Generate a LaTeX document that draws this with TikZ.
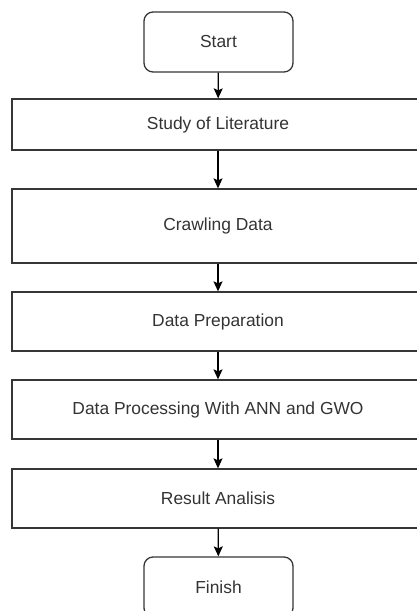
\documentclass[tikz,border=0pt]{standalone}
\usepackage{fontspec}
\setmainfont{Liberation Sans}
\usetikzlibrary{arrows.meta}
\definecolor{bordc}{HTML}{363636}
\definecolor{txtc}{HTML}{333333}
\tikzset{
  flowbox/.style={draw=bordc, line width=1.3pt, inner sep=0pt, text=txtc,
    font=\fontsize{17.4}{20}\selectfont, minimum width=412pt},
  termbox/.style={flowbox, rounded corners=9pt, minimum width=149pt, minimum height=60pt},
  flowarrow/.style={draw=black, line width=1.3pt, -{Stealth[length=10pt,width=9pt,inset=2pt]}}
}
\begin{document}
\begin{tikzpicture}[x=1pt,y=-1pt]
\useasboundingbox (0,0) rectangle (417,611);
\clip (0,0) rectangle (417,611);
\node[termbox] (start) at (218.5,42) {Start};
\node[flowbox, minimum height=51pt] (study) at (218,124.5) {Study of Literature};
\node[flowbox, minimum height=74pt] (crawl) at (218,226) {Crawling Data};
\node[flowbox, minimum height=59pt] (prep) at (218,321.5) {Data Preparation};
\node[flowbox, minimum height=59pt] (proc) at (218,409.5) {Data Processing With ANN and GWO};
\node[flowbox, minimum height=59pt] (res) at (218,498.5) {Result Analisis};
\node[termbox] (finish) at (218.5,587) {Finish};
\draw[flowarrow] (start) -- (study);
\draw[flowarrow] (study) -- (crawl);
\draw[flowarrow] (crawl) -- (prep);
\draw[flowarrow] (prep) -- (proc);
\draw[flowarrow] (proc) -- (res);
\draw[flowarrow] (res) -- (finish);
\end{tikzpicture}
\end{document}
